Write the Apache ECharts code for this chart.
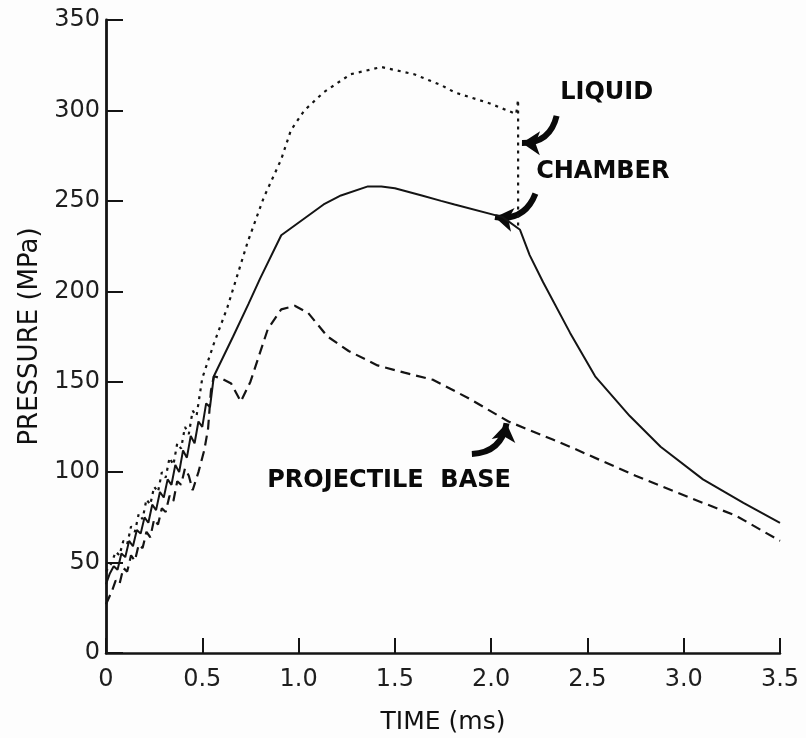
<!DOCTYPE html>
<html>
<head>
<meta charset="utf-8">
<title>Pressure vs time</title>
<script src="https://cdn.jsdelivr.net/npm/echarts@6/dist/echarts.min.js"></script>
<style>
  html, body { margin: 0; padding: 0; background: #fdfdfd; }
  #chart { width: 806px; height: 738px; }
</style>
</head>
<body>
<div id="chart"></div>
<script>
// Axis ticks
const xTicks = [0, 0.5, 1.0, 1.5, 2.0, 2.5, 3.0, 3.5];
const yTicks = [0, 50, 100, 150, 200, 250, 300, 350];

// Liquid pressure, [time ms, MPa]
const liquid = [
  [0, 45], [0.03, 50], [0.05, 56], [0.07, 54], [0.09, 62], [0.11, 60], [0.13, 70], [0.15, 67],
  [0.17, 77], [0.19, 74], [0.21, 85], [0.23, 82], [0.25, 92], [0.27, 89], [0.29, 100], [0.31, 97],
  [0.33, 108], [0.35, 104], [0.37, 116], [0.39, 113], [0.41, 125], [0.43, 121], [0.45, 134], [0.47, 131],
  [0.50, 152], [0.56, 171], [0.63, 191], [0.735, 227], [0.82, 252], [0.91, 273], [0.96, 289],
  [1.03, 300], [1.13, 310], [1.27, 320], [1.43, 324], [1.60, 320], [1.74, 314], [1.81, 310],
  [1.99, 304], [2.13, 298], [2.14, 306], [2.14, 235]
];

// Chamber pressure
const chamber = [
  [0, 38], [0.02, 44], [0.04, 48], [0.06, 46], [0.08, 55], [0.10, 53], [0.12, 62], [0.14, 59],
  [0.16, 68], [0.18, 66], [0.20, 75], [0.22, 72], [0.24, 82], [0.26, 79], [0.28, 89], [0.30, 86],
  [0.32, 96], [0.34, 93], [0.36, 104], [0.38, 100], [0.40, 112], [0.42, 108], [0.44, 120], [0.46, 116],
  [0.48, 128], [0.50, 125], [0.52, 138], [0.54, 136], [0.56, 153], [0.66, 175], [0.74, 193],
  [0.80, 207], [0.91, 231], [1.13, 248], [1.22, 253], [1.36, 258], [1.43, 258], [1.50, 257],
  [1.64, 253], [1.74, 250], [1.81, 248], [2.06, 241], [2.15, 234], [2.20, 220], [2.27, 205],
  [2.41, 177], [2.54, 153], [2.72, 131], [2.88, 114], [3.10, 96], [3.31, 83], [3.50, 72]
];

// Projectile base pressure
const projectileBase = [
  [0, 27], [0.03, 34], [0.05, 40], [0.07, 38], [0.09, 47], [0.11, 45], [0.13, 54], [0.15, 51],
  [0.17, 60], [0.19, 58], [0.21, 67], [0.23, 64], [0.25, 74], [0.27, 71], [0.29, 80], [0.31, 78],
  [0.33, 87], [0.35, 84], [0.37, 95], [0.39, 93], [0.41, 102], [0.43, 98], [0.45, 90], [0.48, 100],
  [0.51, 112], [0.53, 124], [0.545, 145], [0.56, 153], [0.595, 152], [0.65, 149], [0.70, 139],
  [0.75, 150], [0.84, 179], [0.91, 190], [0.98, 192], [1.05, 188], [1.15, 175], [1.26, 167],
  [1.41, 159], [1.55, 155], [1.70, 151], [1.88, 141], [2.09, 128], [2.32, 118], [2.41, 114],
  [2.75, 98], [3.10, 83], [3.27, 76], [3.50, 62]
];

// Curve labels and their pointer arrows (data coordinates)
const labelNames = ['LIQUID', 'CHAMBER', 'PROJECTILE  BASE'];
const labelPos = [[2.60, 310], [2.58, 266], [1.47, 95]];
const arrowFrom = [[2.34, 297], [2.23, 254], [1.90, 110]];
const arrowTo = [[2.16, 282], [2.02, 241], [2.08, 127]];
const arrowBend = [0.4, 0.4, -0.4];

const ink = '#141414';
const tickFont = { fontFamily: 'DejaVu Sans', fontSize: 24, color: '#1e1e1e' };

const chart = echarts.init(document.getElementById('chart'), null, { renderer: 'canvas' });

chart.setOption({
  backgroundColor: '#fdfdfd',
  animation: false,
  grid: { left: 106, right: 26, top: 20, bottom: 85, containLabel: false, outerBoundsMode: 'none' },
  xAxis: {
    type: 'value',
    min: xTicks[0],
    max: xTicks[xTicks.length - 1],
    interval: 0.5,
    name: 'TIME (ms)',
    nameLocation: 'middle',
    nameGap: 57,
    nameTextStyle: { fontFamily: 'DejaVu Sans', fontSize: 25, color: '#111' },
    axisLine: { show: true, lineStyle: { color: ink, width: 2.5 } },
    axisTick: { show: true, inside: true, length: 15, lineStyle: { color: ink, width: 2 } },
    axisLabel: Object.assign({
      margin: 15,
      showMaxLabel: true,
      showMinLabel: true,
      formatter: v => (v === 0 ? '0' : v.toFixed(1))
    }, tickFont),
    splitLine: { show: false }
  },
  yAxis: {
    type: 'value',
    min: yTicks[0],
    max: yTicks[yTicks.length - 1],
    interval: 50,
    name: 'PRESSURE (MPa)',
    nameLocation: 'middle',
    nameRotate: 90,
    nameGap: 63,
    nameTextStyle: { fontFamily: 'DejaVu Sans', fontSize: 26, color: '#111' },
    axisLine: { show: true, lineStyle: { color: ink, width: 2.8 } },
    axisTick: { show: true, inside: true, length: 17, lineStyle: { color: ink, width: 2 } },
    axisLabel: Object.assign({ margin: 6, showMaxLabel: true }, tickFont),
    splitLine: { show: false }
  },
  series: [
    {
      name: 'Liquid',
      type: 'line',
      data: liquid,
      symbol: 'none',
      lineStyle: { color: ink, width: 2.2, type: [3, 5] }
    },
    {
      name: 'Chamber',
      type: 'line',
      data: chamber,
      symbol: 'none',
      lineStyle: { color: ink, width: 2 }
    },
    {
      name: 'Projectile base',
      type: 'line',
      data: projectileBase,
      symbol: 'none',
      lineStyle: { color: ink, width: 2.2, type: [10, 6] }
    },
    {
      name: 'Pointers',
      type: 'lines',
      coordinateSystem: 'cartesian2d',
      silent: true,
      symbol: ['none', 'arrow'],
      symbolSize: 18,
      data: arrowFrom.map((from, i) => ({
        coords: [from, arrowTo[i]],
        lineStyle: { curveness: arrowBend[i] }
      })),
      lineStyle: { color: '#0a0a0a', width: 6, opacity: 1 }
    },
    {
      name: 'Curve labels',
      type: 'scatter',
      silent: true,
      symbolSize: 0,
      itemStyle: { opacity: 1 },
      data: labelPos.map((p, i) => ({ name: labelNames[i], value: p })),
      label: {
        show: true,
        position: 'inside',
        formatter: '{b}',
        fontFamily: 'DejaVu Sans',
        fontWeight: 'bold',
        fontSize: 24,
        color: '#0a0a0a',
        opacity: 1,
        textBorderWidth: 0
      }
    }
  ]
});
</script>
</body>
</html>
